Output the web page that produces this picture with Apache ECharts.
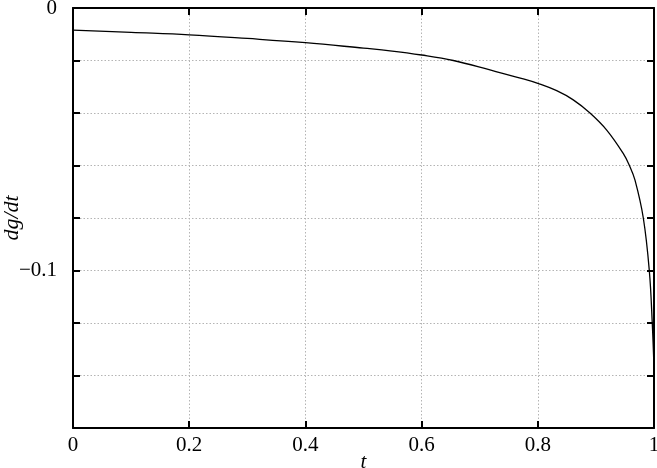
<!DOCTYPE html>
<html>
<head>
<meta charset="utf-8">
<script src="https://cdn.jsdelivr.net/npm/echarts@6/dist/echarts.min.js"></script>
<style>
html,body{margin:0;padding:0;background:#fff;}
#chart{width:657px;height:468px;}
</style>
</head>
<body>
<div id="chart"></div>
<script>
const tValues = [0, 0.1, 0.2, 0.3, 0.4, 0.5, 0.5456, 0.6, 0.6546, 0.7177, 0.775, 0.8, 0.8325, 0.861, 0.8898, 0.9186, 0.947, 0.9576, 0.9673, 0.9816, 0.9919, 0.997, 1.0];
const dgdtValues = [-0.0084, -0.0093, -0.0102, -0.0116, -0.0132, -0.0153, -0.0163, -0.0179, -0.0200, -0.0236, -0.0270, -0.0287, -0.0315, -0.0350, -0.0400, -0.0465, -0.0554, -0.0600, -0.0656, -0.0800, -0.1000, -0.1200, -0.1370];
const xTickLabels = ['0', '0.2', '0.4', '0.6', '0.8', '1'];
const yTickValues = [0, -0.1];
const yTickLabels = ['0', '\u22120.1'];

const FONT = 'Liberation Serif';
const chart = echarts.init(document.getElementById('chart'));
const axisLine = {show: true, onZero: false, lineStyle: {color: '#000', width: 2}};
const tick = {show: true, inside: true, length: 7, lineStyle: {color: '#000', width: 2}};
const grid = {show: true, lineStyle: {color: '#b4b4b4', width: 1, type: [1.5, 2]}};

chart.setOption({
  animation: false,
  grid: {left: 73, right: 3, top: 8, bottom: 40, outerBoundsMode: 'none'},
  xAxis: [{
    type: 'value', min: 0, max: 1, interval: 0.2, position: 'bottom',
    axisLine: axisLine, axisTick: tick, splitLine: grid,
    axisLabel: {
      color: '#000', fontFamily: FONT, fontSize: 21, margin: 7,
      formatter: v => xTickLabels[Math.round(v / 0.2)]
    },
    name: 't', nameLocation: 'middle', nameGap: 24, nameMoveOverlap: false,
    nameTextStyle: {color: '#000', fontFamily: FONT, fontSize: 21, fontStyle: 'italic'}
  }, {
    type: 'value', min: 0, max: 1, interval: 0.2, position: 'top',
    axisLine: axisLine, axisTick: tick, splitLine: {show: false},
    axisLabel: {show: false}
  }],
  yAxis: [{
    type: 'value', min: -0.16, max: 0, interval: 0.02, position: 'left',
    axisLine: axisLine, axisTick: tick, splitLine: grid,
    axisLabel: {
      color: '#000', fontFamily: FONT, fontSize: 21, margin: 16,
      formatter: v => {
        for (let i = 0; i < yTickValues.length; i++) {
          if (Math.abs(v - yTickValues[i]) < 1e-9) return yTickLabels[i];
        }
        return '';
      }
    },
    name: 'dg/dt', nameLocation: 'middle', nameGap: 50, nameRotate: 90, nameMoveOverlap: false,
    nameTextStyle: {color: '#000', fontFamily: FONT, fontSize: 22, fontStyle: 'italic'}
  }, {
    type: 'value', min: -0.16, max: 0, interval: 0.02, position: 'right',
    axisLine: axisLine, axisTick: tick, splitLine: {show: false},
    axisLabel: {show: false}
  }],
  series: [{
    type: 'line', xAxisIndex: 0, yAxisIndex: 0,
    data: tValues.map((t, i) => [t, dgdtValues[i]]),
    showSymbol: false, smooth: 0.4,
    lineStyle: {color: '#000', width: 1.3}
  }]
});
</script>
</body>
</html>
